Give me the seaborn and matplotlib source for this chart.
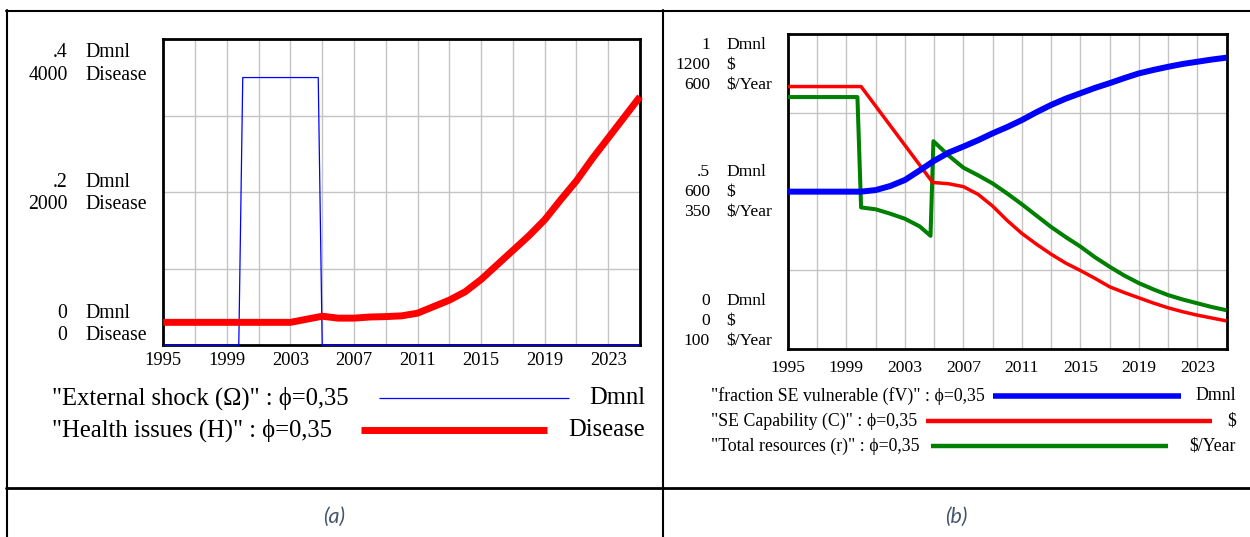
import matplotlib
matplotlib.use("Agg")
import matplotlib.pyplot as plt
import matplotlib.transforms as mtransforms
from matplotlib.lines import Line2D
import seaborn as sns
import pandas as pd

# ---------------- data ----------------
shock_years = [1995, 1999.75, 2000, 2004.75, 2005, 2025]
shock_vals = [0, 0, 0.35, 0.35, 0, 0]

health_years = [1995, 2003, 2004, 2005, 2006, 2007, 2008, 2009, 2010, 2011, 2012,
                2013, 2014, 2015, 2016, 2017, 2018, 2019, 2020, 2021, 2022, 2023,
                2024, 2025]
health_vals = [300, 300, 340, 380, 355, 355, 370, 375, 385, 420, 505,
               590, 700, 860, 1050, 1240, 1430, 1640, 1900, 2150, 2440, 2710,
               2980, 3250]

fv_years = [1995, 2000, 2001, 2002, 2003, 2004, 2005, 2006, 2007, 2008, 2009, 2010,
            2011, 2012, 2013, 2014, 2015, 2016, 2017, 2018, 2019, 2020, 2021,
            2022, 2023, 2024, 2025]
fv_vals = [0.50, 0.50, 0.505, 0.518, 0.537, 0.567, 0.598, 0.624, 0.643, 0.663,
           0.685, 0.705, 0.727, 0.752, 0.775, 0.795, 0.812, 0.829, 0.844, 0.860,
           0.875, 0.886, 0.896, 0.905, 0.912, 0.919, 0.925]

cap_years = [1995, 2000, 2004.9, 2006, 2007, 2008, 2009, 2010, 2011, 2012, 2013,
             2014, 2015, 2016, 2017, 2018, 2019, 2020, 2021, 2022, 2023, 2024, 2025]
cap_vals = [1000, 1000, 635, 630, 619, 590, 545, 490, 441, 400, 362,
            328, 300, 270, 238, 216, 196, 176, 158, 143, 130, 119, 108]

res_years = [1995, 1999.75, 2000, 2001, 2002, 2003, 2004, 2004.75, 2004.95, 2006,
             2007, 2008, 2009, 2010, 2011, 2012, 2013, 2014, 2015, 2016, 2017,
             2018, 2019, 2020, 2021, 2022, 2023, 2024, 2025]
res_vals = [500, 500, 325, 322, 315, 307, 295, 280, 430, 407,
            388, 376, 363, 347, 330, 312, 294, 278, 263, 246, 231,
            217, 205, 195, 186, 179, 173, 167, 162]

year_labels = [1995, 1999, 2003, 2007, 2011, 2015, 2019, 2023]
grid_years = [1997, 2001, 2005, 2009, 2013, 2017, 2021]

a_dmnl_ticks = [0, 0.2, 0.4]
a_dmnl_labels = ["0", ".2", ".4"]
a_dis_labels = ["0", "2000", "4000"]

b_dmnl_labels = ["0", ".5", "1"]
b_cap_labels = ["0", "600", "1200"]
b_res_labels = ["100", "350", "600"]

legend_a = ['"External shock (\u03a9)" : \u03d5=0,35', '"Health issues (H)" : \u03d5=0,35']
units_a = ["Dmnl", "Disease"]
legend_b = ['"fraction SE vulnerable (fV)" : \u03d5=0,35',
            '"SE Capability (C)" : \u03d5=0,35',
            '"Total resources (r)" : \u03d5=0,35']
units_b = ["Dmnl", "$", "$/Year"]

# ---------------- style ----------------
sns.set_theme(style="white")
plt.rcParams['font.family'] = ['Liberation Serif', 'DejaVu Serif']

W, H = 1250, 537
fig = plt.figure(figsize=(12.5, 5.37), dpi=100)
fig.patch.set_facecolor("white")


def px_axes(x0, y0, x1, y1):
    return fig.add_axes([x0 / W, 1 - y1 / H, (x1 - x0) / W, (y1 - y0) / H])


def style_host(ax, pad, xsize):
    ax.set_xlim(1995, 2025)
    ax.set_ylim(0, 1)
    ax.set_xticks(year_labels)
    ax.set_xticklabels([str(y) for y in year_labels], fontsize=xsize)
    ax.set_xticks(grid_years, minor=True)
    ax.set_yticks([0, 0.25, 0.5, 0.75, 1])
    ax.set_yticklabels([])
    ax.grid(True, which="both", axis="x", color="#c4c4c4", lw=1.0)
    ax.grid(True, which="major", axis="y", color="#c4c4c4", lw=1.0)
    ax.tick_params(which="both", length=0, pad=pad, colors="black")
    ax.set_facecolor("white")
    for sp in ax.spines.values():
        sp.set_color("black")
        sp.set_linewidth(2.0)
        sp.set_zorder(2.5)


def overlay(host, lo, hi):
    tw = host.twinx()
    tw.set_ylim(lo, hi)
    tw.set_xlim(1995, 2025)
    tw.set_axis_off()
    return tw


def draw(ax, xs, ys, color, lw):
    df = pd.DataFrame({"year": xs, "value": ys})
    sns.lineplot(data=df, x="year", y="value", ax=ax, color=color, lw=lw,
                 sort=False, estimator=None, legend=False)
    ax.set_xlabel("")
    ax.set_ylabel("")
    for ln in ax.lines:
        ln.set_clip_on(False)
        ln.set_solid_capstyle("butt")
        ln.set_solid_joinstyle("round")


def ylabel_blocks(ax, levels, mode_offsets, num_dx, unit_dx, size):
    trans = mtransforms.blended_transform_factory(ax.transAxes, ax.transData)
    for yv, lines, offs in zip(levels, mode_offsets[0], mode_offsets[1]):
        for (num, unit), dy in zip(lines, offs):
            t1 = mtransforms.offset_copy(trans, fig=fig, x=num_dx, y=dy, units="dots")
            t2 = mtransforms.offset_copy(trans, fig=fig, x=unit_dx, y=dy, units="dots")
            ax.text(0, yv, num, transform=t1, ha="right", va="center", fontsize=size,
                    color="black")
            ax.text(0, yv, unit, transform=t2, ha="left", va="center", fontsize=size,
                    color="black")


# ---------------- panel (a) ----------------
axA = px_axes(163.3, 39.3, 640, 345.3)
style_host(axA, pad=5, xsize=13.3)
draw(axA, shock_years, shock_vals, "#0000ff", 0.9)
axA.set_ylim(0, 0.4)
axA.set_yticks([0, 0.1, 0.2, 0.3, 0.4])
axA.set_yticklabels([])
for ln in axA.lines:
    ln.set_zorder(3)
twA = overlay(axA, 0, 4000)
draw(twA, health_years, health_vals, "#ff0000", 5.0)

sp_a = 22.4
lines_a = [[(a_dmnl_labels[i], "Dmnl"), (a_dis_labels[i], "Disease")] for i in range(3)]
offs_a = [[9.3 + sp_a, 9.3], [sp_a / 2 - 1, -sp_a / 2 - 1], [-13.4, -13.4 - sp_a]]
ylabel_blocks(axA, a_dmnl_ticks, (lines_a, offs_a), -95.8, -78.3, 14.2)

# ---------------- panel (b) ----------------
axB = px_axes(788, 34, 1226.5, 349.3)
style_host(axB, pad=8, xsize=12.6)
twR = overlay(axB, 100, 600)
draw(twR, res_years, res_vals, "#008000", 2.9)
twC = overlay(axB, 0, 1200)
draw(twC, cap_years, cap_vals, "#ff0000", 2.5)
twV = overlay(axB, 0, 1)
draw(twV, fv_years, fv_vals, "#0000ff", 4.3)
axB.set_xlabel("")
axB.set_ylabel("")

sp_b = 20.0
lines_b = [[(b_dmnl_labels[i], "Dmnl"), (b_cap_labels[i], "$"), (b_res_labels[i], "$/Year")]
           for i in range(3)]
offs_b = [[8.6 + 2 * sp_b, 8.6 + sp_b, 8.6], [sp_b, 0, -sp_b],
          [-11, -11 - sp_b, -11 - 2 * sp_b]]
ylabel_blocks(axB, [0, 0.5, 1.0], (lines_b, offs_b), -78, -62, 12.6)

# ---------------- legends ----------------
def fig_text(x, y, s, **kw):
    fig.text(x / W, 1 - y / H, s, **kw)


def fig_line(x0, x1, y, color, lw):
    fig.add_artist(Line2D([x0 / W, x1 / W], [1 - y / H, 1 - y / H], color=color,
                          lw=lw, solid_capstyle="butt", transform=fig.transFigure))


rows_a = [398, 430]
segs_a = [(379, 569, "#0000ff", 0.9), (361, 547, "#ff0000", 5.0)]
for lab, unit, y, (x0, x1, c, lw) in zip(legend_a, units_a, rows_a, segs_a):
    fig_text(52, y, lab, ha="left", va="center", fontsize=17.7, color="black")
    fig_line(x0, x1, y, c, lw)
    fig_text(645, y, unit, ha="right", va="center", fontsize=17.7, color="black")

rows_b = [396, 421, 446]
segs_b = [(993, 1181, "#0000ff", 4.0), (926, 1212, "#ff0000", 3.2), (931, 1168, "#008000", 3.2)]
for lab, unit, y, (x0, x1, c, lw) in zip(legend_b, units_b, rows_b, segs_b):
    fig_text(711, y, lab, ha="left", va="center", fontsize=12.8, color="black")
    fig_line(x0, x1, y, c, lw)
    fig_text(1236, y, unit, ha="right", va="center", fontsize=12.8, color="black")

# ---------------- table frame & captions ----------------
def frame(x0, y0, x1, y1, lw):
    fig.add_artist(Line2D([x0 / W, x1 / W], [1 - y0 / H, 1 - y1 / H], color="black",
                          lw=lw, transform=fig.transFigure))


frame(6, 10.5, 1250, 10.5, 1.5)
frame(6.5, 10, 6.5, 537, 1.5)
frame(663, 10, 663, 537, 1.5)
frame(6, 487.5, 1250, 487.5, 2.0)

fig_text(334.5, 517, "(a)", ha="center", va="center", fontsize=15.5, color="#44546A",
         style="italic", family="Lato")
fig_text(956, 517, "(b)", ha="center", va="center", fontsize=15.5, color="#44546A",
         style="italic", family="Lato")

fig.savefig("out.png", dpi=100, facecolor="white")
